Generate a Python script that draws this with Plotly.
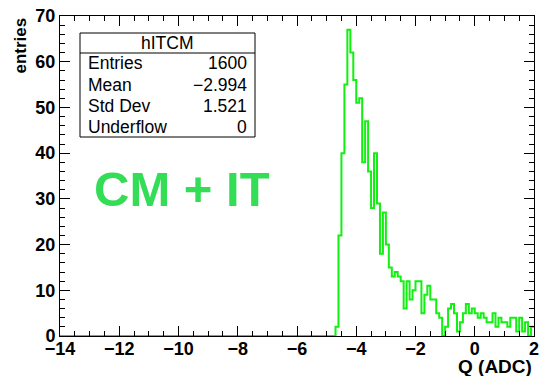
import numpy as np
import plotly.graph_objects as go

# ---- data ----
bin_width = 0.1
x_min, x_max = -14.0, 2.0
first_nonzero_edge = -4.7
counts_nonzero = [2, 22, 40, 55, 67, 62, 56, 51, 52, 38,
                  47, 36, 28, 40, 29, 18, 27, 20, 15, 13,
                  14, 13, 12, 6, 12, 8, 10, 12, 12, 5,
                  9, 11, 8, 8, 5, 4, 0, 2, 6, 7,
                  5, 1, 3, 5, 7, 5, 6, 5, 4, 5,
                  4, 3, 3, 5, 2, 4, 3, 3, 2, 4,
                  4, 1, 4, 1, 3, 0, 2]
x_ticks = [-14, -12, -10, -8, -6, -4, -2, 0, 2]
y_ticks = [0, 10, 20, 30, 40, 50, 60, 70]
stats_title = "hITCM"
stats_rows = [("Entries", "1600"), ("Mean", "\u22122.994"), ("Std Dev", "1.521"), ("Underflow", "0")]

nbins = int(round((x_max - x_min) / bin_width))
edges = x_min + bin_width * np.arange(nbins + 1)
counts = np.zeros(nbins)
start = int(round((first_nonzero_edge - x_min) / bin_width))
counts[start:start + len(counts_nonzero)] = counts_nonzero

xs = list(edges)
ys = list(counts) + [counts[-1]]

fig = go.Figure()
fig.add_trace(go.Scatter(x=xs, y=ys, mode="lines", line_shape="hv",
                         line=dict(color="#11f011", width=2), hoverinfo="skip"))

W, H = 539, 376
L, R, T, B = 60, 5, 16, 40
pw, ph = W - L - R, H - T - B

def px(xp):
    return (xp - L) / pw

def py(yp):
    return (H - B - yp) / ph

font_fam = "Liberation Sans, Arial, Helvetica, sans-serif"

fig.update_layout(
    width=W, height=H, margin=dict(l=L, r=R, t=T, b=B, autoexpand=False),
    paper_bgcolor="white", plot_bgcolor="white", showlegend=False,
    font=dict(family=font_fam, color="black"),
)
fig.update_xaxes(range=[x_min, x_max], tickvals=x_ticks, ticks="inside", ticklen=10,
                 tickcolor="black", showline=True, linecolor="black", linewidth=1,
                 mirror="allticks", showgrid=False, zeroline=False, ticklabelstandoff=-4,
                 ticklabeloverflow="allow", automargin=False,
                 tickfont=dict(size=18, weight="bold", family=font_fam),
                 minor=dict(dtick=0.5, ticks="inside", ticklen=5, tickcolor="black", showgrid=False))
fig.update_yaxes(range=[0, 70], tickvals=y_ticks, ticks="inside", ticklen=10,
                 tickcolor="black", showline=True, linecolor="black", linewidth=1,
                 mirror="allticks", showgrid=False, zeroline=False,
                 ticklabeloverflow="allow", automargin=False,
                 tickfont=dict(size=18, weight="bold", family=font_fam),
                 minor=dict(dtick=2, ticks="inside", ticklen=5, tickcolor="black", showgrid=False))

# axis titles
fig.add_annotation(text="Q (ADC)", xref="paper", yref="paper", x=1.0, y=py(379),
                   xanchor="right", yanchor="bottom", showarrow=False,
                   font=dict(size=19, weight="bold", family=font_fam))
fig.add_annotation(text="entries", xref="paper", yref="paper", x=px(8), y=1.0,
                   xanchor="left", yanchor="top", textangle=-90, showarrow=False,
                   font=dict(size=17, weight="bold", family=font_fam))

# stats box
bx0, bx1, by0, by1, bhead = 80, 255, 33, 137, 53
fig.add_shape(type="rect", xref="paper", yref="paper", x0=px(bx0), x1=px(bx1),
              y0=py(by1), y1=py(by0), line=dict(color="black", width=1), fillcolor="white")
fig.add_shape(type="line", xref="paper", yref="paper", x0=px(bx0), x1=px(bx1),
              y0=py(bhead), y1=py(bhead), line=dict(color="black", width=1))
fig.add_annotation(text=stats_title, xref="paper", yref="paper", x=px((bx0 + bx1) / 2), y=py(43),
                   xanchor="center", yanchor="middle", showarrow=False, font=dict(size=17.5))
row_y = [63, 85, 106, 127]
for (k, v), yy in zip(stats_rows, row_y):
    fig.add_annotation(text=k, xref="paper", yref="paper", x=px(86), y=py(yy),
                       xanchor="left", yanchor="middle", showarrow=False, font=dict(size=17.5))
    fig.add_annotation(text=v, xref="paper", yref="paper", x=px(249), y=py(yy),
                       xanchor="right", yanchor="middle", showarrow=False, font=dict(size=17.5))

fig.add_annotation(text="CM + IT", xref="paper", yref="paper", x=px(92), y=py(189),
                   xanchor="left", yanchor="middle", showarrow=False,
                   font=dict(size=49, weight="bold", color="#33dd55", family=font_fam))

fig.write_html("out.html")
